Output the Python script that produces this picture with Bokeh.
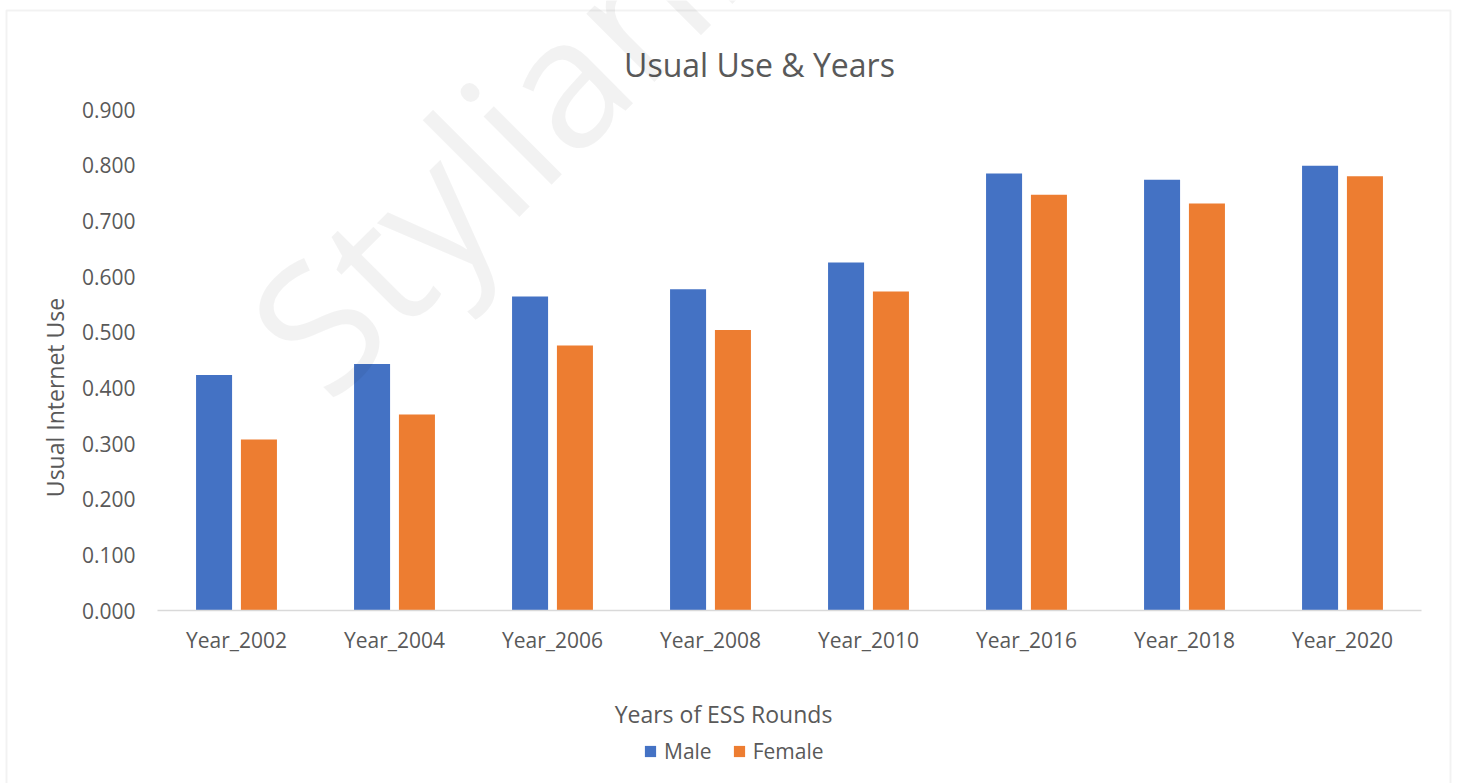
import math
from bokeh.plotting import figure
from bokeh.models import (ColumnDataSource, Range1d, FixedTicker, NumeralTickFormatter,
                          Label, Legend, LegendItem, BoxAnnotation)
from bokeh.embed import file_html
from bokeh.resources import INLINE

# ---- data ----
years = ["Year_2002", "Year_2004", "Year_2006", "Year_2008",
         "Year_2010", "Year_2016", "Year_2018", "Year_2020"]
male = [0.423, 0.443, 0.564, 0.577, 0.625, 0.785, 0.774, 0.799]
female = [0.307, 0.352, 0.476, 0.504, 0.573, 0.747, 0.731, 0.780]
y_ticks = [0.0, 0.1, 0.2, 0.3, 0.4, 0.5, 0.6, 0.7, 0.8, 0.9]
title_text = "Usual Use & Years"
x_title = "Years of ESS Rounds"
y_title = "Usual Internet Use"
series_names = ["Male", "Female"]
watermark = "Styliani"

FONT = "Open Sans"
TXT = "#595959"
BLUE = "#4472C4"
ORANGE = "#ED7D31"

# ---- layout geometry (pixels) ----
W, H = 1458, 783
FL, FR, FB = 157, 1421, 610          # plot area left/right, baseline
PX_X = (FR - FL) / len(years)        # pixels per category
PX_Y = (FB - 109) / 0.9              # pixels per unit value
def dx(px): return (px - FL) / PX_X
def dy(py): return (FB - py) / PX_Y

n = len(years)
centers = [i + 0.5 for i in range(n)]
OFF, BW = 0.142, 0.228
src = ColumnDataSource(dict(years=years, male=male, female=female,
                            xm=[c - OFF for c in centers],
                            xf=[c + OFF for c in centers]))

p = figure(width=W, height=H, x_range=Range1d(dx(0), dx(W)), y_range=Range1d(dy(H), dy(0)),
           output_backend="svg", toolbar_location=None,
           min_border=0, min_border_left=0, min_border_right=0,
           min_border_top=0, min_border_bottom=0)
p.outline_line_color = None
p.background_fill_color = "white"
p.border_fill_color = "white"
p.xgrid.visible = False
p.ygrid.visible = False

# outer chart border
p.add_layout(BoxAnnotation(left=dx(6), right=dx(1450), top=dy(10), bottom=dy(900),
                           fill_alpha=0, line_color="#d4d4d4", line_width=2,
                           level="underlay"))

r_m = p.vbar(x="xm", top="male", width=BW, source=src, fill_color=BLUE, line_color=None)
r_f = p.vbar(x="xf", top="female", width=BW, source=src, fill_color=ORANGE, line_color=None)

# axes
xa = p.xaxis[0]
xa.fixed_location = 0
xa.bounds = (0, n)
xa.ticker = FixedTicker(ticks=centers)
xa.major_label_overrides = {c: y for c, y in zip(centers, years)}
xa.axis_line_color = "#d9d9d9"
xa.axis_line_width = 1.5
xa.major_tick_line_color = None
xa.minor_tick_line_color = None
xa.major_tick_out = 0
xa.major_label_standoff = 15
xa.major_label_text_font = FONT
xa.major_label_text_font_size = "21px"
xa.major_label_text_color = TXT

ya = p.yaxis[0]
ya.fixed_location = 0
ya.bounds = (0, 0.9)
ya.ticker = FixedTicker(ticks=y_ticks)
ya.formatter = NumeralTickFormatter(format="0.000")
ya.axis_line_color = None
ya.major_tick_line_color = None
ya.minor_tick_line_color = None
ya.major_tick_out = 0
ya.major_label_standoff = 22
ya.major_label_text_font = FONT
ya.major_label_text_font_size = "21px"
ya.major_label_text_color = TXT

# title and axis titles
p.add_layout(Label(x=dx(759), y=dy(64), text=title_text, text_align="center",
                   text_baseline="alphabetic", text_font=FONT, text_font_size="32px",
                   text_color=TXT))
p.add_layout(Label(x=dx(723), y=dy(713), text=x_title, text_align="center",
                   text_baseline="alphabetic", text_font=FONT, text_font_size="23px",
                   text_color=TXT))
p.add_layout(Label(x=dx(54), y=dy(397), text=y_title, text_align="center",
                   text_baseline="alphabetic", angle=math.pi / 2, text_font=FONT,
                   text_font_size="23px", text_color=TXT))

# legend
legend = Legend(items=[LegendItem(label=series_names[0], renderers=[r_m]),
                       LegendItem(label=series_names[1], renderers=[r_f])],
                orientation="horizontal", location=(643, H - 765),
                glyph_width=14, glyph_height=14, label_standoff=7, spacing=20,
                padding=0, margin=0, border_line_color=None, background_fill_alpha=0,
                label_text_font=FONT, label_text_font_size="21px",
                label_text_color=TXT)
p.add_layout(legend, "center")

# watermark
p.add_layout(Label(x=dx(280), y=dy(357), text=watermark, angle=math.pi / 4,
                   text_align="left", text_baseline="alphabetic", text_font=FONT,
                   text_font_size="180px", text_color="black", text_alpha=0.05))

open("out.html", "w").write(file_html(p, INLINE))
